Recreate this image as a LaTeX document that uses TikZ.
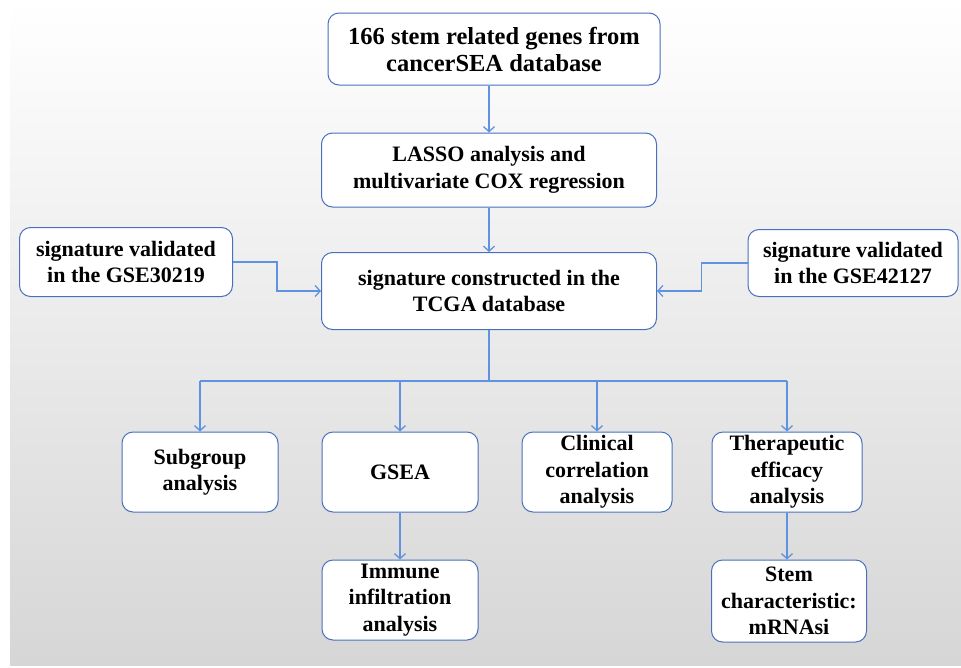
\documentclass[tikz,border=0pt]{standalone}
\usepackage{fontspec}
\setmainfont{Liberation Serif}
\usepackage{tikz}
\usetikzlibrary{arrows.meta,positioning,calc}
\definecolor{BoxBlue}{RGB}{72,112,190}
\definecolor{FlowBlue}{RGB}{96,146,226}
\definecolor{BgGray}{RGB}{214,214,214}
\tikzset{
  box/.style={rectangle,rounded corners=11pt,draw=BoxBlue,line width=1pt,
              fill=white,align=center,inner sep=0pt,
              font=\bfseries\fontsize{22}{26.5}\selectfont},
  flow/.style={-{Straight Barb[length=5pt,width=11pt]},line width=1.3pt,FlowBlue},
  bus/.style={line width=1.3pt,FlowBlue},
}

\begin{document}
\begin{tikzpicture}[x=1pt,y=-1pt]
  \useasboundingbox (0,0) rectangle (961,667);
  % background
  \fill[top color=white,bottom color=BgGray] (10,0) rectangle (961,665);

  % main column
  \node[box,minimum width=332pt,minimum height=72pt,
        font=\bfseries\fontsize{24.5}{27}\selectfont] (src) at (494,49)
    {166 stem related genes from\\cancerSEA database};
  \node[box,minimum width=335pt,minimum height=74pt] (lasso) at (489,170)
    {LASSO analysis and\\multivariate COX regression};
  \node[box,minimum width=335pt,minimum height=77pt] (sig) at (489,291)
    {signature constructed in the\\TCGA database};

  % validation sets
  \node[box,minimum width=213pt,minimum height=69pt] (valL) at (126,262)
    {signature validated\\in the GSE30219};
  \node[box,minimum width=210pt,minimum height=67pt] (valR) at (853,263)
    {signature validated\\in the GSE42127};

  % downstream analyses
  \node[box,minimum width=156pt,minimum height=80pt] (sub)  at (200,472) {Subgroup\\analysis};
  \node[box,minimum width=156pt,minimum height=80pt] (gsea) at (400,472) {GSEA};
  \node[box,minimum width=150pt,minimum height=80pt] (clin) at (597,472) {Clinical\\correlation\\analysis};
  \node[box,minimum width=150pt,minimum height=80pt] (ther) at (787,472) {Therapeutic\\efficacy\\analysis};
  \node[box,minimum width=156pt,minimum height=80pt] (imm)  at (400,600) {Immune\\infiltration\\analysis};
  \node[box,minimum width=155pt,minimum height=82pt] (stem) at (789,601) {Stem\\characteristic:\\mRNAsi};

  % connectors
  \draw[flow] (lasso.north |- src.south) -- (lasso.north);
  \draw[flow] (lasso.south) -- (sig.north);
  \draw[flow] (valL.east) -- ++(44,0) |- (sig.west);
  \draw[flow] (valR.west) -- ++(-46,0) |- (sig.east);

  \coordinate (fork) at (489,381);
  \draw[bus] (sig.south) -- (fork);
  \draw[bus] (sub.north |- fork) -- (ther.north |- fork);
  \foreach \n in {sub,gsea,clin,ther}
    \draw[flow] (\n.north |- fork) -- (\n.north);
  \draw[flow] (gsea.south) -- (imm.north);
  \draw[flow] (ther.south) -- (stem.north -| ther.south);
\end{tikzpicture}
\end{document}
